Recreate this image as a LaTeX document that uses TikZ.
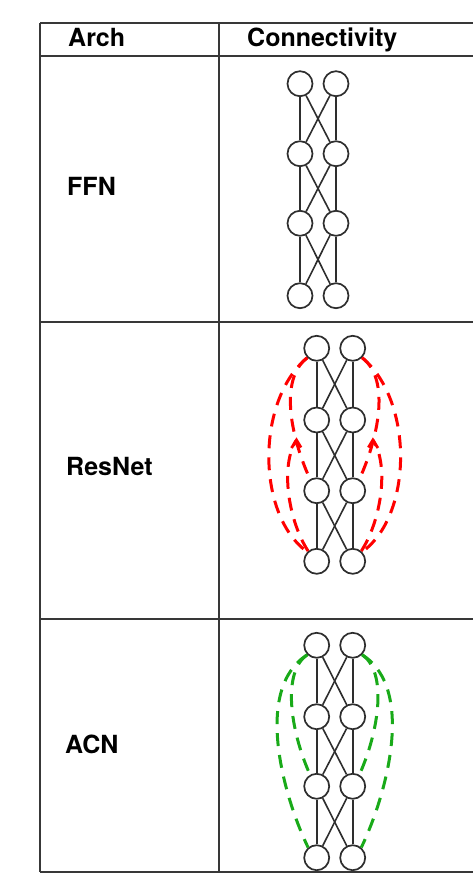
\documentclass[tikz,border=0pt]{standalone}
\usepackage{fontspec}
\setmainfont{TeX Gyre Heros}

\definecolor{skipred}{RGB}{255,0,0}
\definecolor{skipgreen}{RGB}{25,170,25}

\tikzset{
  rule/.style={draw=black!78, line width=1.7pt},
  unit/.style={circle, draw=black!82, line width=1.7pt, fill=white,
               minimum size=25pt, inner sep=0pt},
  link/.style={draw=black!82, line width=1.6pt},
  skip/.style={line width=3pt, dash pattern=on 13pt off 9pt},
  resskip/.style={skip, draw=skipred},
  acnskip/.style={skip, draw=skipgreen},
  barb/.style={draw=skipred, line width=2.8pt, solid},
  cell/.style={font=\bfseries\fontsize{25}{30}\selectfont, inner sep=0pt,
               anchor=base west, text=black}
}

\begin{document}
\begin{tikzpicture}[x=1pt, y=-1pt]
\useasboundingbox (0,0) rectangle (472,889);

% table rules
\foreach \yy in {23.3, 56, 322.3, 619, 872.3}
  \draw[rule] (40,\yy) -- (473,\yy);
\draw[rule] (40,23.3) -- (40,872.3);
\draw[rule] (219.3,23.3) -- (219.3,872.3);

% header and row labels
\node[cell] (hArch) at (68,46) {Arch};
\node[cell] (hConn) at (247,46) {Connectivity};
\node[cell] (lFFN) at (67,195) {FFN};
\node[cell] (lRes) at (66,475) {ResNet};
\node[cell] (lACN) at (65,753) {ACN};

% units of the three networks
\foreach \r/\yy in {0/83.7, 1/153.7, 2/223.3, 3/295.7} {
  \node[unit] (f\r0) at (300,\yy) {};
  \node[unit] (f\r1) at (336,\yy) {};
}
\foreach \r/\yy in {0/348.3, 1/420, 2/490.7, 3/561.3} {
  \node[unit] (r\r0) at (316.7,\yy) {};
  \node[unit] (r\r1) at (352.7,\yy) {};
}
\foreach \r/\yy in {0/645.3, 1/716.7, 2/786.3, 3/857.7} {
  \node[unit] (a\r0) at (316.7,\yy) {};
  \node[unit] (a\r1) at (352.7,\yy) {};
}

% dense connections between consecutive layers
\foreach \net in {f, r, a}
  \foreach \r/\s in {0/1, 1/2, 2/3} {
    \draw[link] (\net\r0) -- (\net\s0);
    \draw[link] (\net\r1) -- (\net\s1);
    \draw[link] (\net\r0) -- (\net\s1);
    \draw[link] (\net\r1) -- (\net\s0);
  }

% ResNet skip connections
\coordinate (tipL) at (296.5,440);
\coordinate (tipR) at (372.9,440);
\draw[resskip] (r00.225) .. controls (256,400) and (256,515) .. (r30.135);
\draw[resskip] (r00.225) .. controls (278,380) and (292,440) .. (r20.120);
\draw[resskip] (r30.130) .. controls (288,520) and (280,465) .. (tipL);
\draw[barb] ([shift={(-5,8)}]tipL) -- (tipL) -- ([shift={(4.5,7.5)}]tipL);
\draw[resskip] (r01.315) .. controls (413.4,400) and (413.4,515) .. (r31.45);
\draw[resskip] (r01.315) .. controls (391.4,380) and (377.4,440) .. (r21.60);
\draw[resskip] (r31.50) .. controls (381.4,520) and (389.4,465) .. (tipR);
\draw[barb] ([shift={(5,8)}]tipR) -- (tipR) -- ([shift={(-4.5,7.5)}]tipR);

% ACN skip connections
\draw[acnskip] (a00.225) .. controls (252,690) and (285,800) .. (a30.130);
\draw[acnskip] (a00.225) .. controls (282,672) and (290,730) .. (a20.120);
\draw[acnskip] (a01.315) .. controls (417.4,690) and (384.4,800) .. (a31.50);
\draw[acnskip] (a01.315) .. controls (387.4,672) and (379.4,730) .. (a21.60);

\end{tikzpicture}
\end{document}
